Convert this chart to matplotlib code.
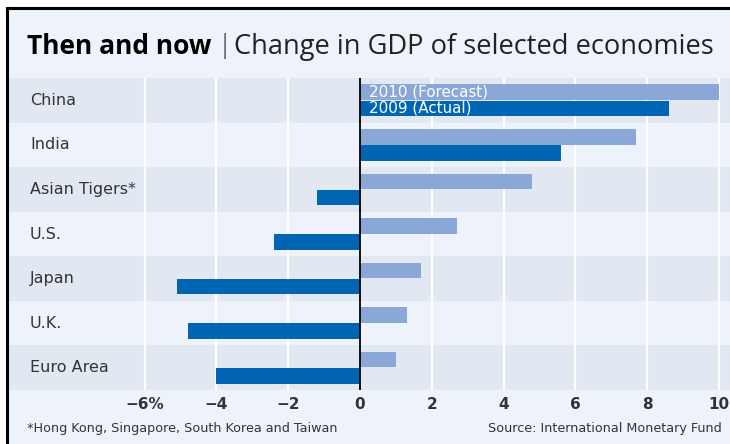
import numpy as np
import matplotlib
matplotlib.use("Agg")
import matplotlib.pyplot as plt
from matplotlib.lines import Line2D
from matplotlib.transforms import blended_transform_factory

# data
countries = ["China", "India", "Asian Tigers*", "U.S.", "Japan", "U.K.", "Euro Area"]
forecast_2010 = [10.0, 7.7, 4.8, 2.7, 1.7, 1.3, 1.0]
actual_2009 = [8.6, 5.6, -1.2, -2.4, -5.1, -4.8, -4.0]
tick_vals = [-6, -4, -2, 0, 2, 4, 6, 8, 10]
tick_labels = ["\u22126%", "\u22124", "\u22122", "0", "2", "4", "6", "8", "10"]

plt.rcParams["font.family"] = "DejaVu Sans"

BG = "#eef3fb"
BAND = "#e2e8f2"
DARK = "#0066b3"
LIGHT = "#8ba7d8"
TXT = "#333333"

W, H = 730, 444
fig = plt.figure(figsize=(W / 100, H / 100), dpi=100)
fig.patch.set_facecolor(BG)

# white margins + black frame lines
fig.patches.append(plt.Rectangle((0, 1 - 8 / H), 1, 8 / H, transform=fig.transFigure,
                                 facecolor="white", edgecolor="none", zorder=-1))
fig.patches.append(plt.Rectangle((0, 0), 6 / W, 1, transform=fig.transFigure,
                                 facecolor="white", edgecolor="none", zorder=-1))
fig.lines.append(Line2D([6.5 / W, 1], [1 - 8.5 / H, 1 - 8.5 / H], transform=fig.transFigure,
                        color="black", lw=2.2))
fig.lines.append(Line2D([6.5 / W, 6.5 / W], [0, 1 - 8.5 / H], transform=fig.transFigure,
                        color="black", lw=2.2))

# axes: spans from x=8 to 730 px, y=78 to 390 px
x0_px, x1_px = 8, 730
zero_px, ten_px = 360, 719
per = (ten_px - zero_px) / 10
ax = fig.add_axes([x0_px / W, (H - 390) / H, (x1_px - x0_px) / W, (390 - 78) / H])
ax.set_xlim((x0_px - zero_px) / per, (x1_px - zero_px) / per)
ax.set_ylim(len(countries) - 0.5, -0.5)
ax.set_facecolor(BG)
for s in ax.spines.values():
    s.set_visible(False)

y = np.arange(len(countries))
for i in y:
    if i % 2 == 0:
        ax.axhspan(i - 0.5, i + 0.5, color=BAND, lw=0, zorder=0)
for t in tick_vals:
    if t != 0:
        ax.axvline(t, color="white", lw=1.6, zorder=1)

bh = 0.35
ax.barh(y - 0.18, forecast_2010, height=bh, color=LIGHT, zorder=2)
ax.barh(y + 0.18, actual_2009, height=bh, color=DARK, zorder=2)
ax.axvline(0, color="black", lw=1.3, zorder=3)

ax.set_xticks(tick_vals)
ax.set_xticklabels(tick_labels)
ax.set_yticks([])
ax.tick_params(axis="x", length=0, pad=5, labelsize=11, labelcolor=TXT)
for lb in ax.get_xticklabels():
    lb.set_fontweight("semibold")

tr = blended_transform_factory(ax.transAxes, ax.transData)
for i, name in enumerate(countries):
    ax.text((30 - x0_px) / (x1_px - x0_px), i, name, transform=tr, ha="left", va="center",
            fontsize=11.5, color=TXT)

# legend written in the China bars
ax.text(0.25, -0.19, "2010 (Forecast)", ha="left", va="center", fontsize=10.9, color="white", zorder=4)
ax.text(0.25, 0.17, "2009 (Actual)", ha="left", va="center", fontsize=10.9, color="white", zorder=4)

# title
fig.text(27 / W, 1 - 47 / H, "Then and now", fontsize=19, fontweight="bold",
         family="Open Sans", ha="left", va="center", color="black")
fig.text(217 / W, 1 - 46 / H, "|", fontsize=19, fontweight="light",
         family="Open Sans", ha="left", va="center", color="#222222")
fig.text(234 / W, 1 - 47 / H, "Change in GDP of selected economies", fontsize=19.6,
         family="Open Sans", ha="left", va="center", color="#222222")

fig.text(27 / W, 1 - 428 / H, "*Hong Kong, Singapore, South Korea and Taiwan", fontsize=9.2,
         ha="left", va="center", color=TXT)
fig.text(722 / W, 1 - 428 / H, "Source: International Monetary Fund", fontsize=9.2,
         ha="right", va="center", color=TXT)

fig.savefig("out.png", dpi=100, facecolor=fig.get_facecolor())
